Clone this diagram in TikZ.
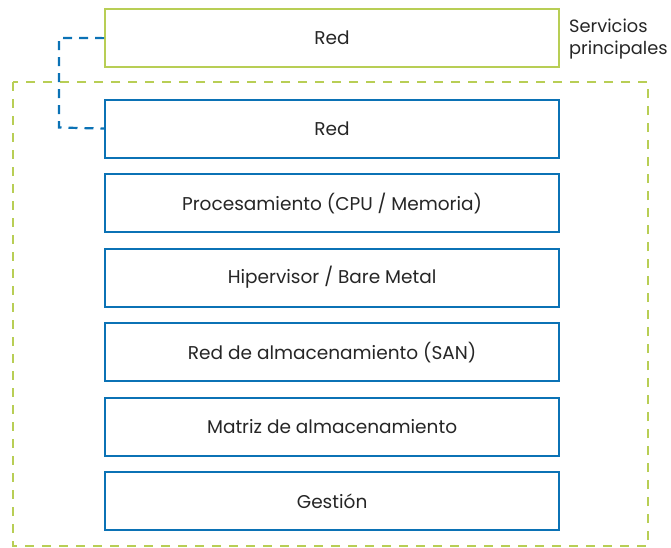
\documentclass[tikz,border=0pt]{standalone}
\usepackage{fontspec}
\setmainfont{Poppins}
\definecolor{layerblue}{HTML}{0B72B5}
\definecolor{layergreen}{HTML}{B8CE55}
\begin{document}
\begin{tikzpicture}[x=1pt,y=-1pt,
  layer/.style={draw=layerblue,line width=2.2pt,fill=white,minimum width=454pt,minimum height=58pt,anchor=north west,inner sep=0pt,font=\fontsize{18.5}{20}\selectfont,text=black!85},
  corelayer/.style={layer,draw=layergreen},
  envelope/.style={draw=layergreen,line width=2.2pt,dash pattern=on 9pt off 8pt},
  link/.style={draw=layerblue,line width=2.2pt,dash pattern=on 9pt off 7pt}]
\useasboundingbox (0,0) rectangle (671,547);
% dashed frame around the local stack
\draw[envelope] (13,82) rectangle (648,546);
% shared service on top
\node[corelayer] (core) at (104,8) {Red};
\node[anchor=north west,align=left,inner sep=0pt,font=\fontsize{17.8}{21.5}\selectfont,text=black!85] (svc) at (569,19) {Servicios\\principales};
% local layers
\node[layer] (net)  at (104,98.5)  {Red};
\node[layer] (cpu)  at (104,173)   {Procesamiento (CPU / Memoria)};
\node[layer] (hyp)  at (104,247.5) {Hipervisor / Bare Metal};
\node[layer] (san)  at (104,322)   {Red de almacenamiento (SAN)};
\node[layer] (arr)  at (104,396.5) {Matriz de almacenamiento};
\node[layer] (mgmt) at (104,471)   {Gestión};
% link between the two network layers
\coordinate (k1) at (59,38);
\coordinate (k2) at (59,127.5);
\draw[link] (core.west) -- (k1) -- (k2) -- (net.west);
\end{tikzpicture}
\end{document}
